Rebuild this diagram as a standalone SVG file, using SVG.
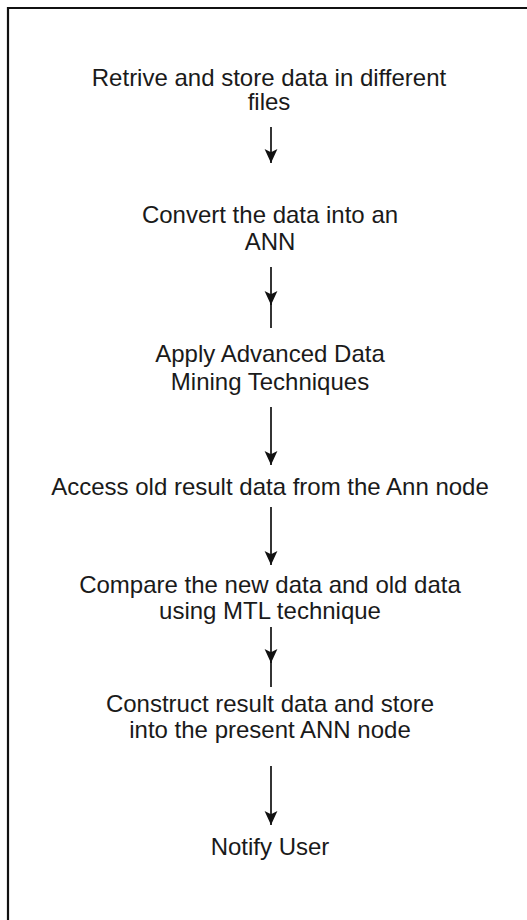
<svg xmlns="http://www.w3.org/2000/svg" width="527" height="920" viewBox="0 0 527 920">
  <style>
    .lbl { font-family: "Liberation Sans", Arial, Helvetica, sans-serif; font-size: 24px; fill: #1a1a1a; text-anchor: middle; }
    .edge { stroke: #111; stroke-width: 1.7; fill: none; }
  </style>
  <defs>
    <marker id="arrow" viewBox="0 0 14 14" refX="13" refY="7" markerWidth="15" markerHeight="15" markerUnits="userSpaceOnUse" orient="auto">
      <path d="M0 1 L13 7 L0 13 L3 7 Z" fill="#111"/>
    </marker>
  </defs>
  <rect width="527" height="920" fill="#ffffff"/>

  <!-- page frame (left and top edges only) -->
  <path d="M8 920 V8 H527" stroke="#111" stroke-width="2.2" fill="none"/>

  <g id="n1">
    <text class="lbl" x="269" y="86">Retrive and store data in different</text>
    <text class="lbl" x="269" y="110">files</text>
  </g>
  <g id="n2">
    <text class="lbl" x="270" y="223">Convert the data into an</text>
    <text class="lbl" x="270" y="250">ANN</text>
  </g>
  <g id="n3">
    <text class="lbl" x="270" y="362">Apply Advanced Data</text>
    <text class="lbl" x="270" y="390">Mining Techniques</text>
  </g>
  <g id="n4">
    <text class="lbl" x="270" y="495">Access old result data from the Ann node</text>
  </g>
  <g id="n5">
    <text class="lbl" x="270" y="593">Compare the new data and old data</text>
    <text class="lbl" x="270" y="619">using MTL technique</text>
  </g>
  <g id="n6">
    <text class="lbl" x="270" y="712">Construct result data and store</text>
    <text class="lbl" x="270" y="738">into the present ANN node</text>
  </g>
  <g id="n7">
    <text class="lbl" x="270" y="855">Notify User</text>
  </g>

  <g id="connectors">
    <path class="edge" d="M271 127 V163" marker-end="url(#arrow)"/>
    <path class="edge" d="M271 267 V305" marker-end="url(#arrow)"/>
    <path class="edge" d="M271 303 V328"/>
    <path class="edge" d="M271 407 V465" marker-end="url(#arrow)"/>
    <path class="edge" d="M271 507 V565" marker-end="url(#arrow)"/>
    <path class="edge" d="M271 627 V663" marker-end="url(#arrow)"/>
    <path class="edge" d="M271 661 V687"/>
    <path class="edge" d="M271 766 V825" marker-end="url(#arrow)"/>
  </g>
</svg>
